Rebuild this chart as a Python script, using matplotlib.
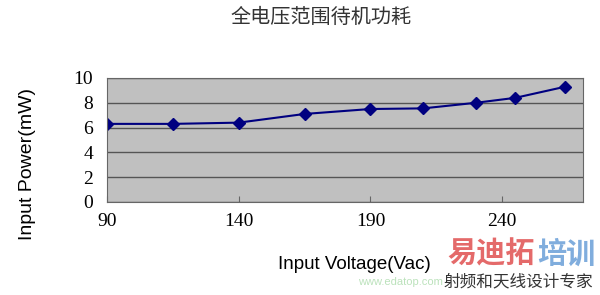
import matplotlib.pyplot as plt

plt.rcParams['font.family'] = ['Liberation Sans', 'Noto Sans CJK SC']

# 数据
voltage = [90, 115, 140, 165, 190, 210, 230, 245, 264]
power = [6.3, 6.3, 6.4, 7.1, 7.5, 7.55, 8.0, 8.4, 9.3]
x_ticks = [90, 140, 190, 240]
y_ticks = [0, 2, 4, 6, 8, 10]

fig = plt.figure(figsize=(6, 2.95), dpi=100)
ax = fig.add_axes([107 / 600, 1 - 202 / 295, 476 / 600, 124 / 295])
ax.set_facecolor('#c0c0c0')

ax.plot(voltage, power, color='#000080', linewidth=1.5,
        marker='D', markersize=6, markerfacecolor='#000080', markeredgecolor='#000080')

ax.set_xlim(90, 270.7)
ax.set_ylim(0, 10)
ax.set_xticks(x_ticks)
ax.set_yticks(y_ticks)
ax.yaxis.grid(True, color='#555555', linewidth=1)
ax.set_axisbelow(True)

for s in ax.spines.values():
    s.set_color('#666666')
ax.tick_params(axis='x', direction='in', length=4, color='#666666', pad=8)
ax.tick_params(axis='y', length=0, pad=10)
for lab in ax.get_xticklabels() + ax.get_yticklabels():
    lab.set_family('Liberation Serif')
    lab.set_fontsize(14)

ax.set_xlabel('Input Voltage(Vac)', fontsize=13.5)
ax.xaxis.set_label_coords(0.519, -0.508)
ax.xaxis.label.set_va('center')
ax.set_ylabel('Input Power(mW)', fontsize=14)
ax.yaxis.set_label_coords(-0.166, 0.31)
ax.yaxis.label.set_va('center')

fig.text(0.535, 0.94, '全电压范围待机功耗', ha='center', va='center',
         fontsize=14.5, family='Noto Sans CJK SC', color='#333333')

# 水印
fig.text(0.738, 0.045, 'www.edatop.com', ha='right', va='center', fontsize=8,
         color='#8fcf8f', alpha=0.6)
fig.text(0.891, 0.14, '易迪拓', ha='right', va='center', fontsize=21,
         fontweight='bold', color='#e05050', family='Noto Sans CJK SC', alpha=0.85)
fig.text(0.896, 0.14, '培训', ha='left', va='center', fontsize=21,
         fontweight='bold', color='#6a9fd8', family='Noto Sans CJK SC', alpha=0.85)
fig.text(0.864, 0.045, '射频和天线设计专家', ha='center', va='center', fontsize=12,
         color='#333333', family='Noto Sans CJK SC')

fig.savefig('out.png', dpi=100)
